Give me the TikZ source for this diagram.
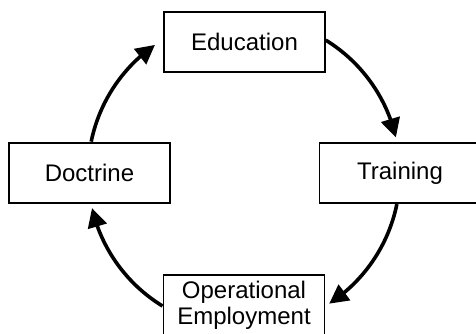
\documentclass[tikz,border=0pt]{standalone}
\usepackage{fontspec}
\setmainfont{Liberation Sans}
\usetikzlibrary{arrows.meta,bending,calc}
\begin{document}
\begin{tikzpicture}[x=1pt,y=1pt,
  box/.style={draw=black,line width=1.8pt,minimum width=161pt,minimum height=60pt,inner sep=0pt,align=center,
    font=\fontsize{24}{26}\selectfont},
  cyc/.style={line width=3.6pt,-{Triangle[length=19pt,width=19pt,flex]}}]
\useasboundingbox[fill=white] (0,0) rectangle (476,333);
\node[box] (edu) at (244.5,291) {Education};
\node[box] (doc) at (89.5,160) {Doctrine};
\node[box] (trn) at (400,160) {Training};
\node[box] (ope) at (244,28) {Operational\\Employment};
\coordinate (c) at (244,160);
\coordinate (s1) at ($(c)+(58.4:156)$);
\coordinate (s2) at ($(c)+(-11.5:156)$);
\coordinate (s3) at ($(c)+(-121.5:156)$);
\coordinate (s4) at ($(c)+(168.4:156)$);
\draw[cyc] (s1) arc[start angle=58.4,end angle=13.2,radius=156];
\draw[cyc] (s2) arc[start angle=-11.5,end angle=-56.9,radius=156];
\draw[cyc] (s3) arc[start angle=-121.5,end angle=-167,radius=156];
\draw[cyc] (s4) arc[start angle=168.4,end angle=124.8,radius=156];
\end{tikzpicture}
\end{document}
